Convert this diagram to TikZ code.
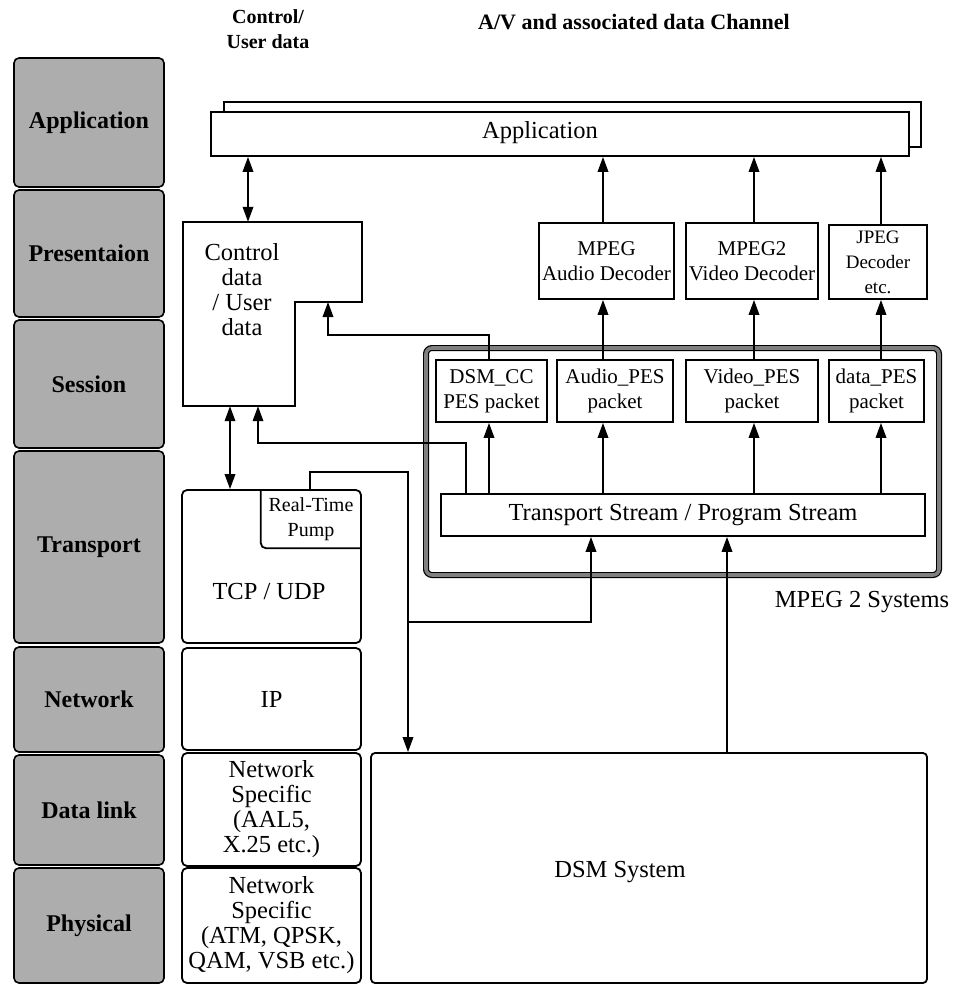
\documentclass[tikz,border=0pt]{standalone}
\usepackage{fontspec}
\setmainfont{Liberation Serif}
\usetikzlibrary{arrows.meta}
\begin{document}
\begin{tikzpicture}[x=1pt,y=-1pt,
  line/.style={line width=1.8pt},
  layer/.style={draw, line width=1.6pt, rounded corners=5pt, fill=black!32, minimum width=150, inner sep=0pt, font=\fontsize{24}{26}\selectfont\bfseries},
  box/.style={draw, line width=1.8pt, fill=white, inner sep=0pt, align=center, font=\fontsize{24.5}{25}\selectfont},
  rbox/.style={box, rounded corners=5pt},
  small/.style={font=\fontsize{21}{25}\selectfont},
  txt/.style={align=center, inner sep=0pt, font=\fontsize{24.5}{25}\selectfont},
  hdr/.style={align=center, inner sep=0pt, font=\fontsize{20}{25}\selectfont\bfseries},
  sysb/.style={draw=black, line width=1.2pt, double=black!50, double distance=3.6pt, rounded corners=6pt, inner sep=0pt},
  arr/.style={line, -{Triangle[length=15pt,width=10.5pt]}},
  darr/.style={line, {Triangle[length=15pt,width=10.5pt]}-{Triangle[length=15pt,width=10.5pt]}}
]
\useasboundingbox[fill=white] (0,0) rectangle (960,985);

% OSI layer column
\node[layer, minimum height=129] (lapp) at (89,122.5) {Application};
\node[layer, minimum height=127] (lpres) at (89,253.5) {Presentaion};
\node[layer, minimum height=128] (lsess) at (89,384) {Session};
\node[layer, minimum height=192] (ltrans) at (89,547) {Transport};
\node[layer, minimum height=105] (lnet) at (89,699.5) {Network};
\node[layer, minimum height=110] (ldata) at (89,810) {Data link};
\node[layer, minimum height=115] (lphys) at (89,925.5) {Physical};

% headers
\node[hdr] (hctl) at (268,29.5) {Control/\\User data};
\node[hdr, font=\fontsize{22}{25}\selectfont\bfseries] (hav) at (634,22) {A/V and associated data Channel};

% application
\node[box, minimum width=697, minimum height=45] (appback) at (572.5,124.5) {};
\node[box, minimum width=698, minimum height=44] (app) at (560,134) {};
\node[txt] (applabel) at (540,133) {Application};

% control / user data (L-shaped box)
\node[minimum width=179, minimum height=184, inner sep=0pt] (ctl) at (272.5,314) {};
\coordinate (cstep) at (295,302);
\draw[line, fill=white] (ctl.north west) -- (ctl.north east) -- (ctl.east |- cstep) -- (cstep) -- (cstep |- ctl.south) -- (ctl.south west) -- cycle;
\node[txt] (ctltext) at (242,289.5) {Control\\data\\/ User\\data};

% decoders
\node[box, small, minimum width=135, minimum height=76] (adec) at (606.5,261) {MPEG\\Audio Decoder};
\node[box, small, minimum width=132, minimum height=76] (vdec) at (752,261) {MPEG2\\Video Decoder};
\node[box, font=\fontsize{19}{25}\selectfont, minimum width=98, minimum height=74] (jdec) at (878,262) {JPEG\\Decoder\\etc.};

% MPEG 2 systems
\node[sysb, minimum width=513, minimum height=227] (sys) at (682.5,461.5) {};
\node[txt] (syslabel) at (862,602) {MPEG 2 Systems};
\node[box, small, minimum width=111, minimum height=62] (dsmcc) at (491.5,391) {DSM\_CC\\PES packet};
\node[box, small, minimum width=116, minimum height=62] (apes) at (615,391) {Audio\_PES\\packet};
\node[box, small, minimum width=132, minimum height=62] (vpes) at (752,391) {Video\_PES\\packet};
\node[box, small, minimum width=95, minimum height=62] (dpes) at (876.5,391) {data\_PES\\packet};
\node[box, minimum width=484, minimum height=42] (ts) at (683,515) {Transport Stream / Program Stream};

% protocol stack
\node[rbox, minimum width=179, minimum height=153] (tcp) at (271.5,566.5) {};
\node[txt] (tcptext) at (269,592) {TCP / UDP};
\node[inner sep=0pt, minimum width=100, minimum height=58, align=center, font=\fontsize{20}{25}\selectfont] (pump) at (311,519) {Real-Time\\Pump};
\draw[line, rounded corners=5pt] (pump.north west) -- (pump.south west) -- (pump.south east);
\node[rbox, minimum width=179, minimum height=102] (ip) at (271.5,699) {IP};
\node[rbox, minimum width=179, minimum height=113] (ns1) at (271.5,809.5) {Network\\Specific\\(AAL5,\\X.25 etc.)};
\node[rbox, minimum width=179, minimum height=115] (ns2) at (271.5,925.5) {Network\\Specific\\(ATM, QPSK,\\QAM, VSB etc.)};

% DSM system
\node[box, rounded corners=4pt, minimum width=556, minimum height=230] (dsm) at (649,868) {};
\node[txt] (dsmtext) at (620,872) {DSM System};

% connector x / y positions
\coordinate (xA) at (248,0);
\coordinate (xB) at (230,0);
\coordinate (xC) at (258,0);
\coordinate (xD) at (328,0);
\coordinate (xE) at (466,0);
\coordinate (xF) at (489,0);
\coordinate (xG) at (603,0);
\coordinate (xH) at (754,0);
\coordinate (xI) at (881,0);
\coordinate (xJ) at (310,0);
\coordinate (xK) at (408,0);
\coordinate (xL) at (591,0);
\coordinate (xM) at (727,0);
\coordinate (yC) at (0,443);
\coordinate (yB) at (0,622);

% connectors
\draw[darr] (app.south -| xA) -- (ctl.north -| xA);
\draw[darr] (ctl.south -| xB) -- (tcp.north -| xB);
\draw[arr] (ts.north -| xE) -- (xE |- yC) -| (ctl.south -| xC);
\draw[arr] (dsmcc.north -| xF) -- ++(0,-24) -| (xD |- cstep);

\draw[arr] (ts.north -| xF) -- (dsmcc.south -| xF);
\draw[arr] (ts.north -| xG) -- (apes.south -| xG);
\draw[arr] (ts.north -| xH) -- (vpes.south -| xH);
\draw[arr] (ts.north -| xI) -- (dpes.south -| xI);

\draw[arr] (apes.north -| xG) -- (adec.south -| xG);
\draw[arr] (vpes.north -| xH) -- (vdec.south -| xH);
\draw[arr] (dpes.north -| xI) -- (jdec.south -| xI);

\draw[arr] (adec.north -| xG) -- (app.south -| xG);
\draw[arr] (vdec.north -| xH) -- (app.south -| xH);
\draw[arr] (jdec.north -| xI) -- (app.south -| xI);

\draw[arr] (pump.north -| xJ) -- ++(0,-18) -| (dsm.north -| xK);
\draw[arr] (xK |- yB) -| (ts.south -| xL);
\draw[arr] (dsm.north -| xM) -- (ts.south -| xM);
\end{tikzpicture}
\end{document}
